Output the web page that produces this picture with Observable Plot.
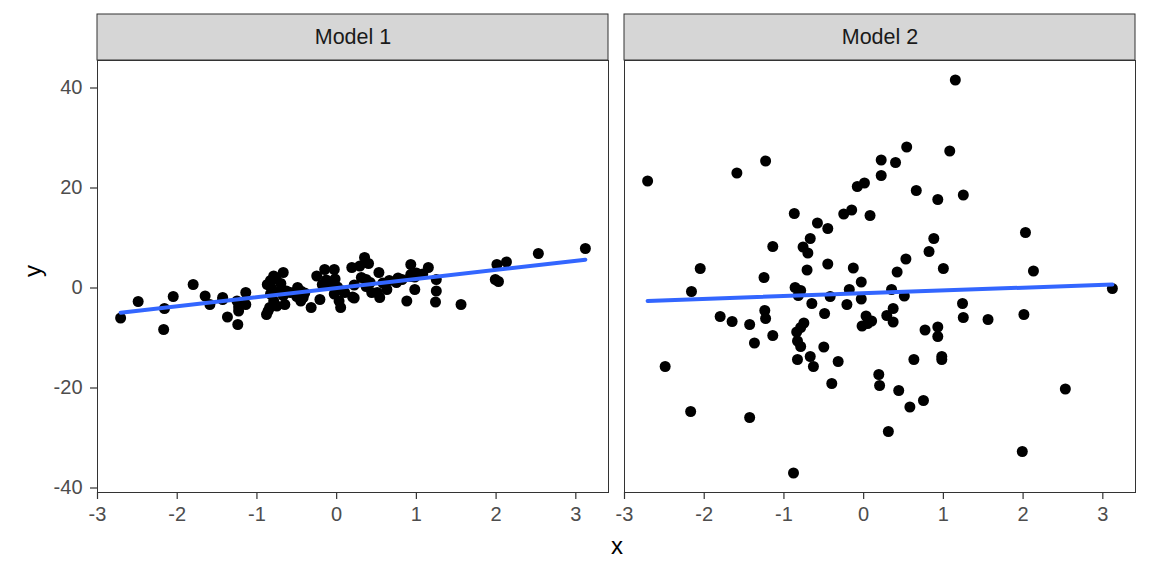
<!DOCTYPE html>
<html><head><meta charset="utf-8">
<script src="https://cdn.jsdelivr.net/npm/d3@7"></script>
<script src="https://cdn.jsdelivr.net/npm/@observablehq/plot@0.6"></script>
<style>
body{margin:0;background:#fff;}
#wrap{position:relative;width:1152px;height:576px;font-family:"Liberation Sans",Arial,sans-serif;}
.ttl{position:absolute;color:#000;font-size:24px;line-height:1;}
</style></head><body><div id="wrap"></div>
<script>
const models = ["Model 1", "Model 2"];
const xs = [-2.71,-2.49,-2.17,-2.16,-2.05,-1.80,-1.65,-1.59,-1.43,-1.43,
  -1.37,-1.25,-1.24,-1.23,-1.23,-1.14,-1.14,-0.88,-0.87,-0.86,
  -0.84,-0.83,-0.83,-0.82,-0.79,-0.79,-0.79,-0.76,-0.75,-0.71,
  -0.70,-0.67,-0.67,-0.65,-0.63,-0.58,-0.50,-0.49,-0.45,-0.45,
  -0.42,-0.40,-0.32,-0.25,-0.21,-0.18,-0.15,-0.13,-0.08,-0.03,
  -0.03,-0.02,0.01,0.03,0.05,0.08,0.10,0.19,0.20,0.22,
  0.22,0.29,0.31,0.35,0.37,0.37,0.40,0.42,0.44,0.51,
  0.53,0.54,0.58,0.63,0.66,0.75,0.77,0.82,0.88,0.93,
  0.93,0.93,0.98,0.98,1.00,1.08,1.15,1.24,1.25,1.25,
  1.56,1.99,2.01,2.03,2.13,2.53,3.12];
const yModel1 = [-6.0,-2.7,-8.3,-4.1,-1.7,0.7,-1.6,-3.3,-1.9,-2.3,
  -5.8,-2.6,-7.3,-4.6,-3.8,-0.9,-3.3,-5.3,0.7,-4.6,
  -3.9,1.5,-1.2,0.0,2.4,-2.6,-0.8,1.8,-3.6,-0.5,
  0.9,3.1,-1.5,-3.3,-0.6,-0.9,-1.7,0.1,-0.6,-2.6,
  -1.9,-1.0,-3.9,2.4,-2.3,0.7,3.7,1.6,0.7,3.7,
  -1.2,1.8,0.2,-2.6,-3.9,-0.6,-0.9,4.1,-1.8,0.6,
  -2.0,4.4,2.1,6.1,1.7,0.3,4.9,1.1,-0.9,-0.9,
  3.1,-1.9,1.0,-0.3,1.5,1.1,2.0,1.7,-2.6,4.7,
  2.7,2.3,-0.3,2.2,3.0,2.8,4.1,-2.8,1.7,-0.6,
  -3.3,1.7,4.7,1.3,5.2,6.9,7.9];
const yModel2 = [21.4,-15.7,-24.7,-0.7,3.9,-5.7,-6.7,23.0,-7.3,-25.9,
  -11.0,2.1,-4.5,25.4,-6.1,8.3,-9.5,-37.0,14.9,0.1,
  -8.8,-10.6,-14.3,-1.5,-0.5,-7.9,-11.7,8.2,-7.0,3.6,
  7.0,9.9,-13.7,-3.1,-15.7,13.0,-11.8,-5.1,11.9,4.8,
  -1.7,-19.1,-14.7,14.8,-3.3,-0.3,15.6,4.0,20.3,1.2,
  -2.2,-7.6,21.0,-5.6,-7.1,14.5,-6.6,-17.3,-19.5,25.6,
  22.5,-5.5,-28.7,-0.3,-4.1,-6.8,25.1,3.2,-20.5,-1.6,
  5.8,28.2,-23.8,-14.3,19.5,-22.5,-8.4,7.3,9.9,17.7,
  -7.8,-9.7,-13.7,-14.3,3.9,27.4,41.6,-3.1,18.6,-5.9,
  -6.3,-32.7,-5.3,11.1,3.4,-20.2,-0.1];
const yTicks = [-40, -20, 0, 20, 40];
const xTicks = [-3, -2, -1, 0, 1, 2, 3];

const data = [];
models.forEach((m, k) => {
  const ys = k === 0 ? yModel1 : yModel2;
  xs.forEach((x, i) => data.push({model: m, x, y: ys[i]}));
});
const strips = models.map(m => ({model: m}));
const xDom = [-3.0, 3.41];
const yDom = [-40.9, 45.5];
const stripTop = 54.7;
const font = '"Liberation Sans", Arial, Helvetica, sans-serif';

const chart = Plot.plot({
  width: 1152, height: 576,
  marginLeft: 97, marginRight: 16, marginTop: 60, marginBottom: 84,
  style: {fontFamily: font, background: "white", overflow: "visible"},
  fx: {domain: models, paddingInner: 0.0303, paddingOuter: 0, axis: null, label: null},
  x: {domain: xDom, label: null},
  y: {domain: yDom, label: null},
  marks: [
    Plot.rect(strips, {fx: "model", x1: () => xDom[0], x2: () => xDom[1], y1: () => yDom[1], y2: () => stripTop,
      fill: "#D6D6D6", stroke: "#333333", strokeWidth: 1}),
    Plot.text(strips, {fx: "model", x: () => (xDom[0] + xDom[1]) / 2, y: () => (yDom[1] + stripTop) / 2,
      text: "model", fontSize: 21.5, fill: "#1A1A1A"}),
    Plot.dot(data, {fx: "model", x: "x", y: "y", r: 5.5, fill: "black", stroke: "none"}),
    Plot.linearRegressionY(data, {fx: "model", x: "x", y: "y", stroke: "#3366FF", strokeWidth: 4, ci: 0}),
    Plot.frame({stroke: "#333333", strokeWidth: 1}),
    Plot.axisY({ticks: yTicks, tickSize: 7, tickPadding: 8, fontSize: 20, label: null,
      tickFormat: d => String(d), color: "#4D4D4D", stroke: "#333333", strokeWidth: 1.2}),
    Plot.axisX({ticks: xTicks, tickSize: 7, tickPadding: 7, fontSize: 20, label: null,
      tickFormat: d => String(d), color: "#4D4D4D", stroke: "#333333", strokeWidth: 1.2})
  ]
});
const wrap = document.getElementById("wrap");
wrap.appendChild(chart);
chart.style.position = "absolute"; chart.style.left = "0"; chart.style.top = "0";
const xt = document.createElement("div");
xt.className = "ttl"; xt.textContent = "x";
xt.style.left = "611px"; xt.style.top = "534px";
wrap.appendChild(xt);
const yt = document.createElement("div");
yt.className = "ttl"; yt.textContent = "y";
yt.style.left = "27px"; yt.style.top = "259px"; yt.style.transform = "rotate(-90deg)";
wrap.appendChild(yt);
</script></body></html>
